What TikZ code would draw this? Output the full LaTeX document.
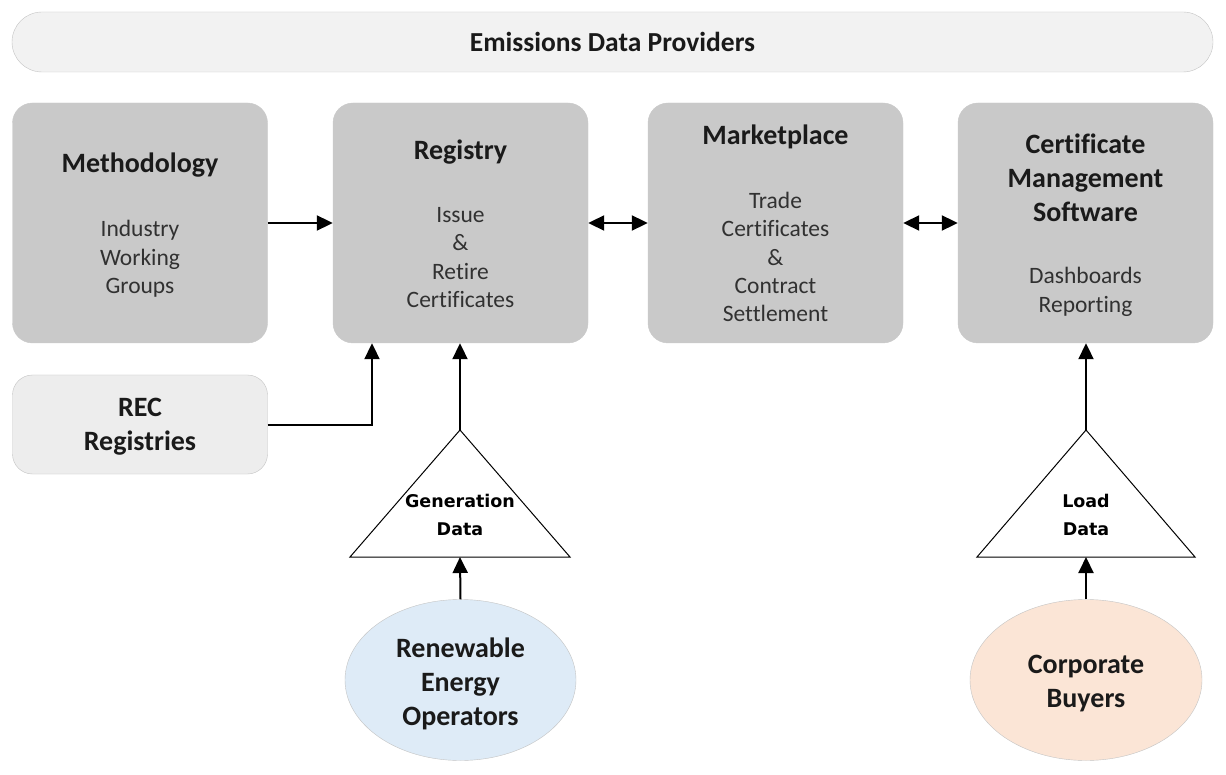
\documentclass[tikz,border=0pt]{standalone}
\usepackage{fontspec}
\setmainfont{Carlito}[Ligatures=NoCommon]
\newfontfamily\trifont{DejaVu Sans}
\usetikzlibrary{arrows.meta,shapes.geometric}
\definecolor{boxgray}{HTML}{C9C9C9}
\definecolor{lightgray}{HTML}{EDEDED}
\definecolor{edgegray}{HTML}{C4C4C4}
\definecolor{blueop}{HTML}{DEEBF7}
\definecolor{peach}{HTML}{FBE5D6}
\definecolor{txt}{HTML}{1A1A1A}
\tikzset{
  mainbox/.style={draw=boxgray, fill=boxgray, rounded corners=20, minimum width=255, minimum height=240, inner sep=0},
  title/.style={font=\bfseries\fontsize{28}{34}\selectfont, text=txt, align=center, inner sep=0},
  body/.style={font=\fontsize{23.5}{28.3}\selectfont, text=txt!90, align=center, inner sep=0},
  arr/.style={line width=2, -{Triangle[length=16,width=15]}},
  darr/.style={line width=2, {Triangle[length=16,width=15]}-{Triangle[length=16,width=15]}},
  tri/.style={draw=black, line width=1, fill=white, line join=miter},
  tritext/.style={font=\trifont\bfseries\fontsize{17.5}{28}\selectfont, align=center, inner sep=0},
}
\begin{document}
\begin{tikzpicture}[x=1pt,y=-1pt]
\useasboundingbox[fill=white] (0,0) rectangle (1226,775);
% banner
\node[draw=edgegray, fill=lightgray!70!white, rounded corners=30, minimum width=1201, minimum height=60, inner sep=0] (banner) at (612.5,42) {};
\node[title, font=\bfseries\fontsize{27.5}{28}\selectfont] (bannert) at (612.5,42) {Emissions Data Providers};
% main boxes
\node[mainbox] (meth) at (140,223) {};
\node[mainbox] (reg) at (460.5,223) {};
\node[mainbox] (mkt) at (775.5,223) {};
\node[mainbox] (cms) at (1085.5,223) {};
\node[title] (metht) at (140,165) {Methodology};
\node[body] (methb) at (140,259) {Industry\\Working\\Groups};
\node[title] (regt) at (460.5,152) {Registry};
\node[body] (regb) at (460.5,257.5) {Issue\\\&\\Retire\\Certificates};
\node[title] (mktt) at (775.5,137) {Marketplace};
\node[body] (mktb) at (775.5,257) {Trade\\Certificates\\\&\\Contract\\Settlement};
\node[title] (cmst) at (1085.5,178) {Certificate\\Management\\Software};
\node[body] (cmsb) at (1085.5,292) {Dashboards\\Reporting};
% REC
\node[draw=edgegray, fill=lightgray, rounded corners=20, minimum width=255, minimum height=99, inner sep=0] (rec) at (140,424.5) {};
\node[title] (rect) at (140,426.5) {REC\\Registries};
% triangles
\coordinate (gtop) at (460,430);
\coordinate (gbot) at (460,557);
\draw[tri] (gtop) -- (570,557) -- (350,557) -- cycle;
\node[tritext] (gent) at (460,515) {Generation\\Data};
\coordinate (ltop) at (1086,430);
\coordinate (lbot) at (1086,557);
\draw[tri] (ltop) -- (1195,557) -- (977,557) -- cycle;
\node[tritext] (loadt) at (1086,515) {Load\\Data};
% ellipses
\node[ellipse, draw=edgegray, fill=blueop, minimum width=231, minimum height=161, inner sep=0] (reo) at (460.5,680) {};
\node[title] (reot) at (460.5,683.5) {Renewable\\Energy\\Operators};
\node[ellipse, draw=edgegray, fill=peach, minimum width=232, minimum height=161, inner sep=0] (corp) at (1086,680) {};
\node[title] (corpt) at (1086,684) {Corporate\\Buyers};
% connectors
\draw[arr] (meth.east) -- (reg.west);
\draw[darr] (reg.east) -- (mkt.west);
\draw[darr] (mkt.east) -- (cms.west);
\draw[arr] (rec.east) -| (reg.south -| 372,0);
\draw[arr] (gtop) -- (reg.south -| gtop);
\draw[arr] (reo.north) -- (gbot);
\draw[arr] (ltop) -- (cms.south -| ltop);
\draw[arr] (corp.north) -- (lbot);
\end{tikzpicture}
\end{document}
